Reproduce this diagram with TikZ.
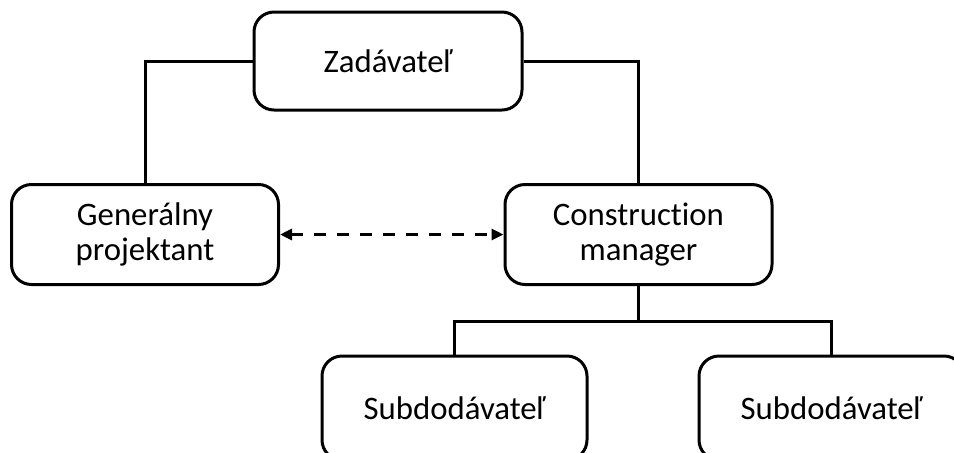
\documentclass[tikz,border=0pt]{standalone}
\usepackage{fontspec}
\setmainfont{Carlito}[Ligatures={NoCommon,NoRequired,NoContextual}]
\usetikzlibrary{arrows.meta}

\begin{document}
\begin{tikzpicture}[x=0.5pt,y=-0.5pt, every node/.style={align=center},
  role/.style={draw, line width=1.5pt, rounded corners=10pt, minimum width=133.5pt,
    minimum height=50pt, inner sep=0pt, font=\fontsize{16.4}{17.5}\selectfont},
  link/.style={line width=1.5pt}]
  \useasboundingbox (0,0) rectangle (954,452);
  \clip (0,0) rectangle (954,452);
  \node[role, minimum width=134pt, minimum height=49pt] (zad) at (388,61) {Zadávateľ};
  \node[role] (gen) at (145,234.5) {Generálny\\projektant};
  \node[role] (cm) at (638.5,234.5) {Construction\\manager};
  \node[role, minimum width=132.5pt, minimum height=52pt] (sub1) at (454.5,408) {Subdodávateľ};
  \node[role, minimum width=132.5pt, minimum height=52pt] (sub2) at (831.5,408) {Subdodávateľ};
  \coordinate (branch) at (638.5,321);

  \draw[link] (zad.west) -| (gen.north);
  \draw[link] (zad.east) -| (cm.north);
  \draw[link, dash pattern=on 6pt off 5.5pt, {Triangle[length=6pt,width=5.5pt]}-{Triangle[length=6pt,width=5.5pt]}] (gen.east) -- (cm.west);
  \draw[link] (cm.south) -- (branch);
  \draw[link] (sub1.north) |- (branch) -| (sub2.north);
\end{tikzpicture}
\end{document}
